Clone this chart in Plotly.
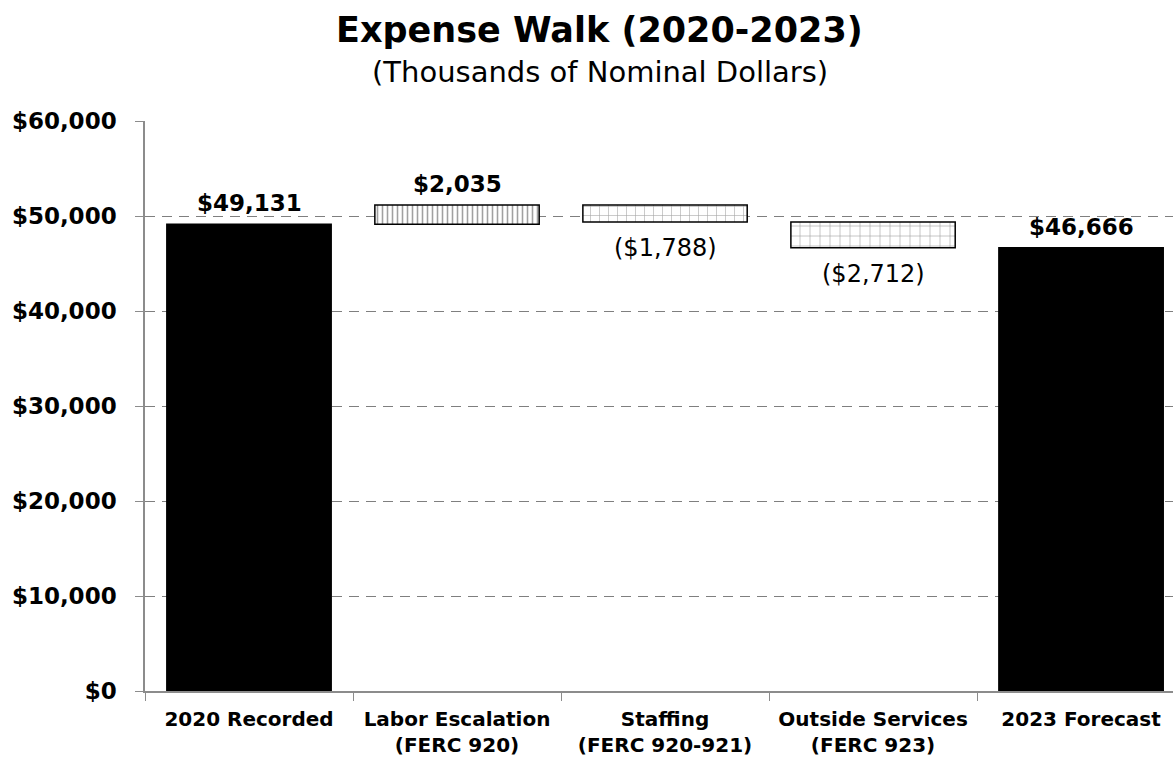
import plotly.graph_objects as go

# Expense walk: starting total, incremental drivers, ending total (thousands of $)
categories = ["2020 Recorded", "Labor Escalation<br>(FERC 920)", "Staffing<br>(FERC 920-921)",
              "Outside Services<br>(FERC 923)", "2023 Forecast"]
start_total = 49131
deltas = [2035, -1788, -2712]
end_total = 46666

# Floating bar geometry derived from the walk
bases, heights = [0], [start_total]
running = start_total
for d in deltas:
    bases.append(min(running, running + d))
    heights.append(abs(d))
    running += d
bases.append(0)
heights.append(end_total)
values = [start_total] + deltas + [end_total]

FONT = "DejaVu Sans"
AXIS_GREY = "#8c8c8c"

fig = go.Figure()
fig.add_trace(go.Bar(
    x=categories,
    y=heights,
    base=bases,
    width=0.79,
    marker=dict(
        color=["black", "white", "white", "white", "black"],
        line=dict(color="black", width=1.5),
        pattern=dict(
            shape=["", "|", "+", "+", ""],
            size=[8, 5, 9, 10, 8],
            solidity=[0.2, 0.32, 0.12, 0.12, 0.2],
            fgcolor=["black", "#000000", "#444444", "#333333", "black"],
            fillmode="overlay",
        ),
    ),
    hoverinfo="skip",
))


def fmt(v):
    return f"(${abs(v):,})" if v < 0 else f"${v:,}"


# Value labels: totals and increases above, decreases below
for i, (cat, v) in enumerate(zip(categories, values)):
    top = bases[i] + heights[i]
    if v >= 0:
        fig.add_annotation(x=cat, y=top, text=f"<b>{fmt(v)}</b>", showarrow=False,
                           yanchor="bottom", yshift=6,
                           font=dict(family=FONT, size=23, color="black"))
    else:
        fig.add_annotation(x=cat, y=bases[i], text=fmt(v), showarrow=False,
                           yanchor="top", yshift=-10,
                           font=dict(family=FONT, size=24, color="black"))

# Title block
fig.add_annotation(xref="paper", yref="paper", x=0.4426, y=1.16, text="<b>Expense Walk (2020-2023)</b>",
                   showarrow=False, xanchor="center", yanchor="middle",
                   font=dict(family=FONT, size=35, color="black"))
fig.add_annotation(xref="paper", yref="paper", x=0.4426, y=1.086, text="(Thousands of Nominal Dollars)",
                   showarrow=False, xanchor="center", yanchor="middle",
                   font=dict(family=FONT, size=29, color="black"))

fig.update_layout(
    width=1173, height=762,
    margin=dict(l=145, r=0, t=121, b=71),
    paper_bgcolor="white", plot_bgcolor="white",
    showlegend=False,
    bargap=0.21,
    font=dict(family=FONT, color="black"),
)
fig.update_xaxes(
    type="category", categoryorder="array", categoryarray=categories,
    range=[-0.5, 4.442],
    tickson="boundaries", ticks="outside", ticklen=8, tickcolor=AXIS_GREY, tickwidth=1,
    ticklabelstandoff=9,
    showline=True, linecolor=AXIS_GREY, linewidth=1.5,
    showgrid=False,
    tickfont=dict(family=FONT, size=20, color="black", weight="bold"),
)
fig.update_yaxes(
    range=[0, 60000], dtick=10000,
    tickprefix="$", tickformat=",",
    ticks="outside", ticklen=8, tickcolor=AXIS_GREY, tickwidth=1,
    ticklabelstandoff=14,
    showline=True, linecolor=AXIS_GREY, linewidth=1.5,
    showgrid=True, gridcolor="#7f7f7f", gridwidth=1, griddash="10px,7px",
    zeroline=False,
    tickfont=dict(family=FONT, size=23, color="black", weight="bold"),
)

fig.write_html("out.html")
